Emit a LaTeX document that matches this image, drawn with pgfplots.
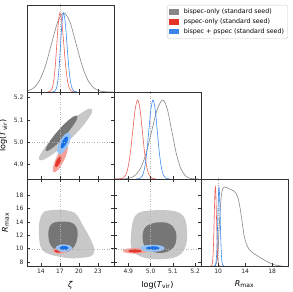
\documentclass[border=0pt]{standalone}
\usepackage{pgfplots}
\pgfplotsset{compat=1.18}
\usepackage{fontspec}
\setmainfont{DejaVu Sans}
\definecolor{gLight}{RGB}{200,200,200}
\definecolor{gDark}{RGB}{118,118,118}
\definecolor{rLight}{RGB}{244,160,152}
\definecolor{rDark}{RGB}{228,52,40}
\definecolor{bLight}{RGB}{150,196,248}
\definecolor{bDark}{RGB}{24,112,232}
\definecolor{gLine}{RGB}{135,135,135}
\definecolor{rLine}{RGB}{236,96,86}
\definecolor{bLine}{RGB}{60,140,240}
\definecolor{spine}{RGB}{50,50,50}
\pgfplotsset{
  corner/.style={width=87pt,height=87pt,scale only axis,anchor=south west,
    axis line style={line width=0.7pt,spine},
    tick align=inside, major tick length=3pt,
    tick style={line width=0.6pt,spine},
    ticklabel style={font=\fontsize{6}{7}\selectfont, text=black!85},
    label style={font=\fontsize{8}{9}\selectfont},
    /pgf/number format/assume math mode=true,
    axis on top, clip=true},
  oned/.style={corner, ymin=0, ymax=1.1, ytick=\empty, xtick pos=bottom},
  cont/.style={draw=none, fill=#1, smooth, tension=0.7, forget plot},
  curve/.style={draw=#1, line width=0.6pt, smooth, tension=0.5, no markers, forget plot},
  truth/.style={dotted, black!30, line width=0.5pt, forget plot},
  zx/.style={xmin=11.79, xmax=25.53, xtick={14,17,20,23}},
  tx/.style={xmin=4.836, xmax=5.226, xtick={4.9,5.0,5.1,5.2}, xticklabels={4.9,5.0,5.1,5.2}},
  rx/.style={xmin=7.45, xmax=20.35},
  ty/.style={ymin=4.836, ymax=5.226, ytick={4.9,5.0,5.1,5.2}, yticklabels={4.9,5.0,5.1,5.2}},
  ry/.style={ymin=7.45, ymax=20.35, ytick={8,10,12,14,16,18}},
}
\begin{document}
\begin{tikzpicture}
\useasboundingbox (0,0) rectangle (293pt,292pt);
% ---------- top-left: zeta 1D
\begin{axis}[oned, zx, xticklabels={}, at={(27pt,200pt)},
  legend style={at={(3,1)}, anchor=north east, draw=black!20, rounded corners=1.5pt,
    font=\fontsize{6.3}{7.3}\selectfont, inner sep=1.8pt, row sep=-0.6pt, cells={anchor=west},
    /tikz/every odd column/.append style={column sep=3pt}},
  ]
\addplot[truth] coordinates {(17,0) (17,1.2)};
\addplot[curve=gLine] coordinates {(11.75,0.011) (12.73,0.044) (13.70,0.135) (14.68,0.325) (15.65,0.607) (16.63,0.883) (17.60,1.000) (18.58,0.883) (19.55,0.607) (20.53,0.325) (21.50,0.135) (22.48,0.044) (23.45,0.011) (24.43,0.002) (25.40,0.000)};
\addplot[curve=rLine] coordinates {(15.0,0) (15.5,0.011) (15.75,0.044) (16.0,0.135) (16.25,0.325) (16.5,0.607) (16.75,0.883) (17.0,1) (17.3,0.883) (17.6,0.607) (17.9,0.325) (18.2,0.135) (18.5,0.044) (18.8,0.011) (19.4,0)};
\addplot[curve=bLine] coordinates {(15.75,0) (16.20,0.011) (16.425,0.044) (16.65,0.135) (16.875,0.325) (17.10,0.607) (17.325,0.883) (17.55,1) (17.825,0.883) (18.10,0.607) (18.375,0.325) (18.65,0.135) (18.925,0.044) (19.20,0.011) (19.75,0)};
\addlegendimage{legend image code/.code={\fill[gLine, sharp corners] (0pt,-2pt) rectangle (9.5pt,2.5pt);}}
\addlegendentry{bispec-only (standard seed)}
\addlegendimage{legend image code/.code={\fill[rDark, sharp corners] (0pt,-2pt) rectangle (9.5pt,2.5pt);}}
\addlegendentry{pspec-only (standard seed)}
\addlegendimage{legend image code/.code={\fill[bDark!85, sharp corners] (0pt,-2pt) rectangle (9.5pt,2.5pt);}}
\addlegendentry{bispec + pspec (standard seed)}
\end{axis}
% ---------- middle-left: zeta vs logT
\begin{axis}[corner, zx, ty, xticklabels={}, at={(27pt,113pt)}, ylabel={log(\textit{T}\textsubscript{vir})}]
\addplot[cont=gLight] coordinates {(22.04,5.149) (22.09,5.140) (21.85,5.123) (20.61,5.074) (18.63,5.014) (16.46,4.960) (14.67,4.926) (14.08,4.920) (13.75,4.922) (13.70,4.931) (13.94,4.948) (15.18,4.997) (17.16,5.057) (19.33,5.111) (21.12,5.145) (21.71,5.151) (22.04,5.149)};
\addplot[cont=gDark] coordinates {(19.73,5.120) (19.66,5.103) (18.94,5.070) (17.78,5.029) (16.48,4.991) (15.38,4.967) (14.80,4.962) (14.87,4.979) (15.58,5.013) (16.75,5.054) (18.05,5.092) (19.14,5.116) (19.73,5.120)};
\addplot[cont=rLight] coordinates {(18.10,4.987) (18.24,4.975) (18.07,4.950) (17.62,4.919) (17.03,4.890) (16.43,4.871) (16.01,4.867) (15.86,4.879) (16.04,4.904) (16.48,4.935) (17.08,4.964) (17.67,4.983) (18.10,4.987)};
\addplot[cont=rDark] coordinates {(17.15,4.938) (17.24,4.933) (17.20,4.923) (17.02,4.910) (16.77,4.899) (16.52,4.891) (16.32,4.890) (16.23,4.895) (16.28,4.905) (16.45,4.918) (16.70,4.929) (16.96,4.937) (17.15,4.938)};
\addplot[cont=bLight] coordinates {(18.48,5.043) (18.70,5.032) (18.63,5.011) (18.29,4.986) (17.77,4.964) (17.22,4.949) (16.78,4.948) (16.57,4.959) (16.64,4.980) (16.97,5.005) (17.49,5.027) (18.04,5.041) (18.48,5.043)};
\addplot[cont=bDark] coordinates {(18.16,5.026) (18.26,5.020) (18.21,5.009) (18.01,4.995) (17.73,4.983) (17.44,4.975) (17.21,4.973) (17.11,4.979) (17.16,4.991) (17.36,5.005) (17.64,5.017) (17.93,5.025) (18.16,5.026)};
\addplot[truth] coordinates {(17,4.8) (17,5.3)};
\addplot[truth] coordinates {(11,5.0) (26,5.0)};
\end{axis}
% ---------- bottom-left: zeta vs Rmax
\begin{axis}[corner, zx, ry, at={(27pt,26pt)}, xlabel={\textit{ζ}}, ylabel={\textit{R}\textsubscript{max}}]
\addplot[cont=gLight] coordinates {(13.68,12.95) (13.79,14.19) (14.32,15.33) (15.21,15.68) (17.05,15.78) (18.63,15.58) (19.68,15.03) (20.47,13.70) (21.26,12.46) (22.05,10.97) (22.42,9.88) (22.05,8.99) (20.74,8.70) (18.63,8.60) (16.79,8.85) (15.21,9.24) (14.16,9.88) (13.74,11.22) (13.68,12.95)};
\addplot[cont=gDark] coordinates {(15.16,12.46) (15.47,13.45) (16.26,13.94) (17.58,14.04) (18.90,13.85) (19.58,13.20) (19.79,12.21) (19.58,10.97) (18.90,9.98) (17.84,9.49) (16.53,9.74) (15.58,10.48) (15.21,11.47) (15.16,12.46)};
\addplot[cont=rLight] coordinates {(18.15,9.72) (18.00,9.95) (17.58,10.11) (17.00,10.17) (16.43,10.11) (16.00,9.95) (15.85,9.72) (16.00,9.50) (16.43,9.33) (17.00,9.27) (17.58,9.33) (18.00,9.50) (18.15,9.72)};
\addplot[cont=rDark] coordinates {(17.25,9.68) (17.18,9.81) (16.98,9.90) (16.70,9.93) (16.43,9.90) (16.22,9.81) (16.15,9.68) (16.22,9.56) (16.43,9.46) (16.70,9.43) (16.98,9.46) (17.18,9.56) (17.25,9.68)};
\addplot[cont=bLight] coordinates {(18.90,10.10) (18.73,10.38) (18.25,10.58) (17.60,10.65) (16.95,10.58) (16.47,10.38) (16.30,10.10) (16.47,9.83) (16.95,9.62) (17.60,9.55) (18.25,9.62) (18.73,9.83) (18.90,10.10)};
\addplot[cont=bDark] coordinates {(18.35,10.12) (18.26,10.27) (18.00,10.38) (17.65,10.42) (17.30,10.38) (17.04,10.27) (16.95,10.12) (17.04,9.97) (17.30,9.86) (17.65,9.82) (18.00,9.86) (18.26,9.97) (18.35,10.12)};
\addplot[truth] coordinates {(17,7) (17,21)};
\addplot[truth] coordinates {(11,10) (26,10)};
\end{axis}
% ---------- middle-center: logT 1D
\begin{axis}[oned, tx, xticklabels={}, at={(114pt,113pt)}]
\addplot[truth] coordinates {(5.0,0) (5.0,1.2)};
\addplot[curve=gLine] coordinates {(4.830,0.0) (4.855,0.0003) (4.880,0.002) (4.905,0.011) (4.930,0.044) (4.955,0.135) (4.980,0.325) (5.005,0.607) (5.030,0.883) (5.055,1) (5.075,0.883) (5.095,0.607) (5.115,0.325) (5.135,0.135) (5.155,0.044) (5.175,0.011) (5.195,0.002) (5.215,0)};
\addplot[curve=rLine] coordinates {(4.832,0) (4.854,0.0003) (4.876,0.011) (4.887,0.044) (4.898,0.135) (4.909,0.325) (4.920,0.607) (4.931,0.883) (4.942,1) (4.9525,0.883) (4.963,0.607) (4.9735,0.325) (4.984,0.135) (4.9945,0.044) (5.005,0.011) (5.026,0)};
\addplot[curve=bLine] coordinates {(4.935,0) (4.954,0.011) (4.9635,0.044) (4.973,0.135) (4.9825,0.325) (4.992,0.607) (5.0015,0.883) (5.011,1) (5.0205,0.883) (5.030,0.607) (5.0395,0.325) (5.049,0.135) (5.0585,0.044) (5.068,0.011) (5.087,0)};
\end{axis}
% ---------- bottom-center: logT vs Rmax
\begin{axis}[corner, tx, ry, yticklabels={}, at={(114pt,26pt)}, xlabel={log(\textit{T}\textsubscript{vir})}]
\addplot[cont=gLight] coordinates {(4.913,12.46) (4.922,14.19) (4.943,15.28) (4.986,15.63) (5.046,15.73) (5.107,15.58) (5.145,14.93) (5.160,13.70) (5.164,11.96) (5.158,10.48) (5.137,9.24) (5.092,8.60) (5.031,8.45) (4.978,8.65) (4.940,9.09) (4.917,9.88) (4.911,10.97) (4.913,12.46)};
\addplot[cont=gDark] coordinates {(4.964,11.96) (4.973,13.05) (5.001,13.70) (5.046,13.94) (5.084,13.70) (5.107,12.95) (5.116,11.96) (5.111,10.73) (5.092,9.89) (5.054,9.39) (5.008,9.59) (4.978,10.23) (4.966,11.07) (4.964,11.96)};
\addplot[cont=rLight] coordinates {(4.985,9.70) (4.978,9.91) (4.958,10.06) (4.930,10.12) (4.903,10.06) (4.882,9.91) (4.875,9.70) (4.882,9.49) (4.903,9.34) (4.930,9.28) (4.958,9.34) (4.978,9.49) (4.985,9.70)};
\addplot[cont=rDark] coordinates {(4.960,9.68) (4.956,9.80) (4.945,9.89) (4.930,9.92) (4.915,9.89) (4.904,9.80) (4.900,9.68) (4.904,9.56) (4.915,9.47) (4.930,9.44) (4.945,9.47) (4.956,9.56) (4.960,9.68)};
\addplot[cont=bLight] coordinates {(5.063,10.08) (5.056,10.34) (5.036,10.53) (5.008,10.60) (4.981,10.53) (4.960,10.34) (4.953,10.08) (4.960,9.82) (4.981,9.63) (5.008,9.56) (5.036,9.63) (5.056,9.82) (5.063,10.08)};
\addplot[cont=bDark] coordinates {(5.040,10.10) (5.036,10.24) (5.025,10.34) (5.010,10.38) (4.995,10.34) (4.984,10.24) (4.980,10.10) (4.984,9.96) (4.995,9.86) (5.010,9.82) (5.025,9.86) (5.036,9.96) (5.040,10.10)};
\addplot[truth] coordinates {(5.0,7) (5.0,21)};
\addplot[truth] coordinates {(4.8,10) (5.3,10)};
\end{axis}
% ---------- bottom-right: Rmax 1D
\begin{axis}[oned, rx, xtick={10,14,18}, at={(201pt,26pt)}, xlabel={\textit{R}\textsubscript{max}}]
\addplot[truth] coordinates {(10,0) (10,1.2)};
\addplot[curve=gLine] coordinates {(9.46,0.0) (9.70,0.025) (9.95,0.15) (10.19,0.55) (10.44,0.87) (10.68,0.98) (10.92,1.0) (11.31,0.99) (11.80,0.97) (12.29,0.95) (12.63,0.92) (12.97,0.85) (13.27,0.72) (13.56,0.55) (13.85,0.38) (14.19,0.28) (14.58,0.21) (15.07,0.17) (15.80,0.13) (16.53,0.09) (17.27,0.055) (18.00,0.025) (18.73,0.008) (19.46,0)};
\addplot[curve=rLine] coordinates {(8.90,0) (9.07,0.011) (9.155,0.044) (9.24,0.135) (9.325,0.325) (9.41,0.607) (9.495,0.883) (9.58,1) (9.665,0.883) (9.75,0.607) (9.835,0.325) (9.92,0.135) (10.005,0.044) (10.09,0.011) (10.26,0)};
\addplot[curve=bLine] coordinates {(9.40,0) (9.58,0.011) (9.67,0.044) (9.76,0.135) (9.85,0.325) (9.94,0.607) (10.03,0.883) (10.12,1) (10.21,0.883) (10.30,0.607) (10.39,0.325) (10.48,0.135) (10.57,0.044) (10.66,0.011) (10.84,0)};
\end{axis}
\end{tikzpicture}
\end{document}
